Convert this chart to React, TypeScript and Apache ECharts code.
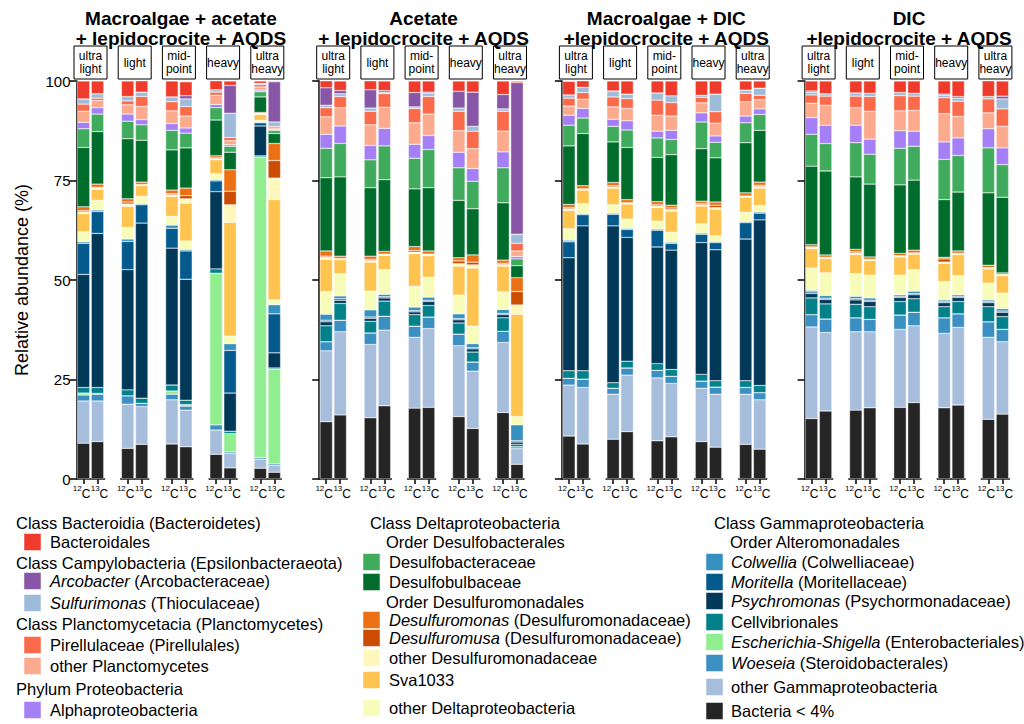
import React, { useEffect, useRef } from 'react';
import * as echarts from 'echarts';

// Facet titles (two lines each), fraction strips and isotope labels
const treatments: string[][] = [
  ['Macroalgae + acetate', '+ lepidocrocite + AQDS'],
  ['Acetate', '+ lepidocrocite + AQDS'],
  ['Macroalgae + DIC', '+lepidocrocite + AQDS'],
  ['DIC', '+lepidocrocite + AQDS'],
];
const fractions = ['ultra\nlight', 'light', 'mid-\npoint', 'heavy', 'ultra\nheavy'];
const isotopes = ['12C', '13C'];

// Taxa in legend order (top of each stack first)
const taxa = [
  'Bacteroidales', 'Arcobacter', 'Sulfurimonas', 'Pirellulaceae', 'other Planctomycetes',
  'Alphaproteobacteria', 'Desulfobacteraceae', 'Desulfobulbaceae', 'Desulfuromonas',
  'Desulfuromusa', 'other Desulfuromonadaceae', 'Sva1033', 'other Deltaproteobacteria',
  'Colwellia', 'Moritella', 'Psychromonas', 'Cellvibrionales', 'Escherichia-Shigella',
  'Woeseia', 'other Gammaproteobacteria', 'Bacteria < 4%',
];
const taxonColors = [
  '#EF3B2C', '#8856A7', '#9EBCDA', '#FB6A4A', '#FCAA8E',
  '#A47FF5', '#41AB5D', '#006D2C', '#EC7014',
  '#CC4C02', '#FFF7BC', '#FEC44F', '#F7FCB9',
  '#3690C0', '#045A8D', '#023858', '#02818A', '#90EE90',
  '#3B8FC1', '#A6BDDB', '#252525',
];
const legendLabels = [
  'Bacteroidales', '{i|Arcobacter} (Arcobacteraceae)', '{i|Sulfurimonas} (Thioculaceae)',
  'Pirellulaceae (Pirellulales)', 'other Planctomycetes', 'Alphaproteobacteria',
  'Desulfobacteraceae', 'Desulfobulbaceae', '{i|Desulfuromonas} (Desulfuromonadaceae)',
  '{i|Desulfuromusa} (Desulfuromonadaceae)', 'other Desulfuromonadaceae', 'Sva1033',
  'other Deltaproteobacteria', '{i|Colwellia} (Colwelliaceae)', '{i|Moritella} (Moritellaceae)',
  '{i|Psychromonas} (Psychormonadaceae)', 'Cellvibrionales',
  '{i|Escherichia-Shigella} (Enterobacteriales)', '{i|Woeseia} (Steroidobacterales)',
  'other Gammaproteobacteria', 'Bacteria < 4%',
];

// Relative abundance (%). Each row: one treatment; within it, fractions
// ultra light, light, mid-point, heavy, ultra heavy, each as 12C, 13C.
const bacteroidales = [
  4.5, 3.2, 3.9, 2.9, 4.0, 3.5, 2.3, 1.1, 0.6, 0.2,
  1.8, 2.4, 2.3, 2.4, 2.9, 2.8, 2.6, 2.8, 3.4, 0.3,
  3.4, 1.8, 2.5, 3.3, 3.0, 3.7, 3.6, 3.3, 2.3, 1.8,
  2.5, 3.2, 3.0, 3.1, 2.9, 3.1, 3.3, 3.9, 4.0, 3.8,
];
const arcobacter = [
  0, 0, 0, 0, 0, 0.8, 0, 7.0, 0, 10.1,
  4.4, 0.8, 4.6, 0.4, 3.6, 0.3, 4.2, 8.6, 3.6, 38.1,
  0, 0, 0, 0, 0, 0, 0, 0, 0, 0,
  0.3, 0, 0, 0, 0, 0, 0.3, 0.4, 0, 0.7,
];
const sulfurimonas = [
  1.3, 1.1, 1.1, 1.1, 1.2, 1.9, 0.6, 6.1, 0.3, 1.1,
  0.6, 0.7, 0.8, 0.4, 0.4, 0.8, 0.8, 1.2, 0.6, 2.3,
  0.8, 1.3, 1.5, 1.1, 1.8, 1.7, 0.5, 4.4, 0.8, 1.8,
  0.7, 0.6, 0.8, 0.8, 0.8, 0.7, 0.6, 0.8, 0.6, 2.5,
];
const pirellulaceae = [
  1.8, 0.6, 1.0, 2.5, 2.3, 2.4, 0.8, 0.8, 0.6, 0.4,
  2.3, 2.8, 3.4, 3.4, 3.6, 4.4, 4.9, 4.4, 5.0, 1.9,
  2.0, 1.7, 2.5, 2.5, 3.8, 3.4, 1.4, 2.9, 2.1, 1.1,
  2.1, 2.3, 2.9, 3.7, 3.8, 3.6, 4.0, 3.8, 3.5, 4.4,
];
const otherPlanctomycetes = [
  2.8, 1.8, 2.3, 3.3, 3.2, 3.0, 2.3, 1.0, 0.8, 0.4,
  4.4, 4.6, 5.2, 5.3, 5.4, 5.4, 5.4, 5.0, 5.2, 1.4,
  2.3, 2.3, 3.1, 3.1, 4.0, 3.6, 2.5, 3.2, 3.6, 2.3,
  3.6, 5.0, 4.4, 7.0, 5.0, 5.2, 7.1, 5.4, 4.0, 5.4,
];
const alphaproteobacteria = [
  1.6, 1.6, 1.8, 1.3, 1.7, 1.3, 0.8, 0.4, 0.4, 0.2,
  3.5, 4.4, 3.6, 4.4, 3.5, 3.5, 3.9, 3.2, 4.0, 0.6,
  2.5, 2.4, 1.8, 2.3, 1.7, 2.3, 2.3, 1.6, 1.7, 1.4,
  4.2, 4.6, 4.4, 3.8, 4.4, 3.8, 4.4, 4.4, 4.8, 4.2,
];
const desulfobacteraceae = [
  4.7, 4.4, 4.4, 3.9, 4.9, 3.7, 3.1, 1.5, 1.3, 0.8,
  7.4, 8.4, 7.0, 8.5, 7.7, 9.6, 8.2, 6.9, 8.8, 1.7,
  5.2, 3.9, 3.9, 4.4, 4.9, 3.8, 6.7, 3.9, 5.0, 4.0,
  8.0, 6.9, 8.6, 7.5, 9.2, 8.5, 10.1, 9.2, 11.3, 8.2,
];
const desulfobulbaceae = [
  14.9, 13.2, 15.1, 10.5, 10.1, 10.1, 9.0, 4.4, 3.9, 2.5,
  18.4, 19.9, 17.2, 18.0, 14.5, 15.9, 14.4, 11.6, 14.4, 3.0,
  14.7, 13.1, 10.2, 13.1, 11.1, 12.7, 13.2, 11.1, 12.6, 13.0,
  19.7, 21.1, 18.2, 18.3, 17.2, 17.6, 14.5, 14.8, 18.2, 19.0,
];
const desulfuromonas = [
  1.0, 0.8, 0.8, 0.6, 0.9, 1.9, 0.5, 5.4, 0.2, 4.3,
  1.3, 0.6, 0.8, 0.7, 1.0, 0.8, 0.8, 1.8, 0.8, 3.5,
  0.8, 0.8, 0.8, 0.8, 0.8, 0.7, 0.6, 0.8, 0.8, 0.8,
  0.6, 0.6, 0.6, 0.6, 0.6, 0.7, 0.4, 0.6, 0.6, 0.4,
];
const desulfuromusa = [
  0.3, 0.2, 0.5, 0, 0.3, 0.8, 0.2, 3.4, 0, 4.4,
  0.3, 0, 0.3, 0, 0.4, 0, 0.7, 0.7, 0.3, 3.4,
  0.3, 0, 0.3, 0, 0.3, 0.4, 0.3, 0.6, 0, 0.3,
  0, 0, 0.3, 0, 0, 0, 0.8, 0, 0, 0,
];
const otherDesulfuromonadaceae = [
  0.4, 0.3, 0.6, 0.3, 0.4, 1.1, 0.3, 4.4, 0.3, 5.4,
  0.5, 0.3, 0.4, 0.3, 0.4, 0.4, 0.6, 0.8, 0.4, 2.3,
  0.4, 0.3, 0.3, 0.3, 0.4, 0.4, 0.3, 0.4, 0.3, 0.4,
  0.4, 0.3, 0.4, 0.3, 0.3, 0.3, 0.3, 0.3, 0.3, 0.3,
];
const sva1033 = [
  4.6, 2.8, 5.3, 2.7, 5.0, 9.5, 3.5, 28.6, 1.5, 25.2,
  8.1, 3.5, 7.3, 3.6, 8.2, 5.4, 7.3, 14.6, 6.5, 25.7,
  4.6, 3.4, 4.2, 3.8, 3.4, 5.3, 4.5, 6.7, 3.8, 4.4,
  4.9, 3.6, 4.8, 3.7, 4.6, 3.9, 4.6, 5.3, 3.6, 4.4,
];
const otherDeltaproteobacteria = [
  2.5, 2.4, 2.9, 1.8, 2.2, 2.1, 1.5, 1.9, 0.4, 1.2,
  5.7, 5.6, 4.7, 6.2, 5.2, 5.0, 4.7, 4.4, 4.4, 2.1,
  2.9, 2.5, 2.1, 2.3, 2.0, 2.5, 2.3, 1.4, 2.3, 1.6,
  5.6, 5.7, 5.7, 5.7, 4.9, 5.4, 4.6, 4.8, 4.2, 3.9,
];
const colwellia = [
  0.4, 0.4, 0.6, 0.3, 0.8, 0.4, 0.3, 1.7, 0.2, 2.3,
  1.5, 0.7, 1.8, 0.6, 0.9, 0.8, 1.2, 1.0, 1.0, 4.0,
  0.4, 0.3, 0.3, 0.3, 0.3, 0.3, 0.3, 0.3, 0.3, 0.3,
  0.4, 0.7, 0.6, 0.6, 0.4, 0.6, 0.4, 0.4, 0.4, 0.6,
];
const moritella = [
  7.8, 5.5, 7.1, 4.6, 5.0, 7.1, 2.7, 10.7, 0.8, 9.8,
  0.4, 0.4, 0.3, 0.3, 0.3, 0.3, 0.3, 0.3, 0.3, 0.3,
  4.0, 2.8, 2.9, 2.0, 4.2, 1.7, 2.1, 1.8, 4.1, 1.7,
  0.4, 0.3, 0.3, 0.3, 0.3, 0.3, 0.3, 0.3, 0.3, 0.3,
];
const psychromonas = [
  28.4, 38.7, 30.2, 44.0, 34.4, 30.4, 19.4, 9.6, 7.5, 3.8,
  1.0, 0.8, 0.8, 0.8, 0.7, 1.0, 0.8, 0.8, 0.8, 0.6,
  28.4, 36.4, 39.4, 31.1, 29.3, 30.0, 33.1, 32.9, 35.6, 41.6,
  1.1, 1.1, 1.1, 1.3, 1.0, 1.0, 1.0, 1.0, 1.0, 1.1,
];
const cellvibrionales = [
  1.4, 1.5, 1.5, 1.3, 1.5, 1.1, 1.1, 0.6, 0.3, 0.3,
  4.0, 4.2, 2.9, 3.8, 2.9, 2.9, 2.8, 2.5, 3.4, 0.6,
  1.9, 2.1, 1.4, 1.7, 1.7, 1.7, 1.7, 1.6, 1.7, 1.8,
  4.2, 3.8, 3.4, 3.2, 3.4, 3.4, 2.8, 3.1, 3.8, 3.2,
];
const escherichiaShigella = [
  0.5, 0.2, 0, 0, 0.8, 0.4, 38.1, 4.6, 75.5, 23.8,
  0, 0, 0, 0, 0, 0, 0, 0, 0, 0,
  0, 0, 0, 0, 0, 0, 0, 0, 0, 0,
  0, 0, 0, 0, 0, 0, 0, 0, 0, 0,
];
const woeseia = [
  1.5, 1.7, 2.1, 0.8, 1.4, 1.0, 1.3, 0.4, 0.4, 0.4,
  2.3, 2.9, 2.9, 3.5, 2.8, 2.9, 2.9, 2.3, 2.8, 0.5,
  1.7, 2.1, 1.5, 1.8, 1.9, 1.8, 1.8, 1.8, 1.7, 1.8,
  3.1, 3.4, 3.5, 3.1, 3.6, 3.4, 3.9, 3.4, 3.9, 3.1,
];
const otherGammaproteobacteria = [
  10.6, 10.2, 11.1, 9.5, 11.1, 9.2, 6.1, 3.6, 2.3, 1.7,
  17.8, 20.9, 18.4, 19.0, 17.8, 19.8, 17.8, 14.4, 17.6, 3.9,
  12.8, 14.2, 11.3, 14.2, 15.8, 13.4, 13.4, 13.3, 12.6, 12.4,
  23.0, 19.7, 19.7, 19.1, 19.6, 19.3, 18.7, 19.5, 20.6, 18.2,
];
const bacteriaBelow4 = [
  9.0, 9.4, 7.7, 8.7, 8.8, 8.1, 6.2, 2.8, 2.7, 1.7,
  14.4, 16.1, 15.4, 18.4, 17.8, 18.0, 15.7, 12.7, 16.7, 3.7,
  10.8, 8.8, 10.0, 11.9, 9.6, 10.6, 9.4, 8.0, 8.7, 7.5,
  15.2, 17.1, 17.3, 17.9, 18.0, 19.2, 17.9, 18.6, 15.0, 16.3,
];

const taxonValues = [
  bacteroidales, arcobacter, sulfurimonas, pirellulaceae, otherPlanctomycetes,
  alphaproteobacteria, desulfobacteraceae, desulfobulbaceae, desulfuromonas,
  desulfuromusa, otherDesulfuromonadaceae, sva1033, otherDeltaproteobacteria,
  colwellia, moritella, psychromonas, cellvibrionales, escherichiaShigella,
  woeseia, otherGammaproteobacteria, bacteriaBelow4,
];

// Legend blocks: group headings and member taxa
const legendColumns = [
  {
    headX: 16, subX: 16, boxX: 24, labelX: 50,
    rows: [
      { head: 'Class Bacteroidia (Bacteroidetes)', y: 523 },
      { taxon: 0, y: 542 },
      { head: 'Class Campylobacteria (Epsilonbacteraeota)', y: 563 },
      { taxon: 1, y: 581 },
      { taxon: 2, y: 603 },
      { head: 'Class Planctomycetacia (Planctomycetes)', y: 624 },
      { taxon: 3, y: 645 },
      { taxon: 4, y: 666 },
      { head: 'Phylum Proteobacteria', y: 689 },
      { taxon: 5, y: 710 },
    ],
  },
  {
    headX: 370, subX: 386, boxX: 363, labelX: 389,
    rows: [
      { head: 'Class Deltaproteobacteria', y: 523 },
      { sub: 'Order Desulfobacterales', y: 542 },
      { taxon: 6, y: 562 },
      { taxon: 7, y: 582 },
      { sub: 'Order Desulfuromonadales', y: 602 },
      { taxon: 8, y: 620 },
      { taxon: 9, y: 638 },
      { taxon: 10, y: 658 },
      { taxon: 11, y: 680 },
      { taxon: 12, y: 708 },
    ],
  },
  {
    headX: 714, subX: 730, boxX: 706, labelX: 731,
    rows: [
      { head: 'Class Gammaproteobacteria', y: 523 },
      { sub: 'Order Alteromonadales', y: 542 },
      { taxon: 13, y: 562 },
      { taxon: 14, y: 582 },
      { taxon: 15, y: 601 },
      { taxon: 16, y: 622 },
      { taxon: 17, y: 642 },
      { taxon: 18, y: 663 },
      { taxon: 19, y: 687 },
      { taxon: 20, y: 711 },
    ],
  },
];

const FONT = 'Liberation Sans, Arial, Helvetica, sans-serif';

export default function App() {
  const ref = useRef<HTMLDivElement>(null);

  useEffect(() => {
    if (!ref.current) return;
    const chart = echarts.init(ref.current, undefined, { renderer: 'svg' });

    // Facet geometry
    const X0 = 90.5;      // centre of first pair of bars
    const PSTEP = 242.7;  // treatment spacing
    const SSTEP = 44.2;   // fraction spacing
    const SUBW = 28;      // plotting width of one fraction
    const STRIPW = 33;    // strip box width
    const TOP = 81;
    const H = 398;
    const axisStyle = { color: '#000', width: 1.5 };

    // isotope label: small raised mass number followed by the element;
    // the pair is nudged apart so the two labels sit side by side
    const supStyle = { fontSize: 8, fontFamily: FONT, color: '#000', verticalAlign: 'top', lineHeight: 16 };
    const elStyle = { fontSize: 12, fontFamily: FONT, color: '#000', verticalAlign: 'bottom', lineHeight: 16 };
    const isoRich = {
      sl: { ...supStyle },
      cl: { ...elStyle, padding: [0, 4, 0, 0] },
      sr: { ...supStyle, padding: [0, 0, 0, 4] },
      cr: { ...elStyle },
    };

    const grids: any[] = [];
    const xAxes: any[] = [];
    const yAxes: any[] = [];
    const graphics: any[] = [];

    for (let p = 0; p < treatments.length; p++) {
      for (let s = 0; s < fractions.length; s++) {
        const g = p * fractions.length + s;
        const c = X0 + p * PSTEP + s * SSTEP;
        grids.push({ left: c - SUBW / 2, top: TOP, width: SUBW, height: H });
        xAxes.push({
          type: 'category', gridIndex: g, data: isotopes,
          axisLine: { show: true, lineStyle: axisStyle },
          axisTick: { show: true, alignWithLabel: true, length: 5, lineStyle: axisStyle },
          axisLabel: {
            show: true, interval: 0, margin: 5,
            formatter: (v: string, i: number) =>
              i === 0
                ? `{sl|${v.slice(0, 2)}}{cl|${v.slice(2)}}`
                : `{sr|${v.slice(0, 2)}}{cr|${v.slice(2)}}`,
            rich: isoRich,
          },
        });
        yAxes.push({
          type: 'value', gridIndex: g, min: 0, max: 100, interval: 25,
          show: s === 0,
          splitLine: { show: false },
          axisLine: { show: true, lineStyle: axisStyle },
          axisTick: { show: true, length: 7, lineStyle: axisStyle },
          axisLabel: { show: p === 0, fontSize: 15, color: '#000', fontFamily: FONT, margin: 6 },
          name: g === 0 ? 'Relative abundance (%)' : '',
          nameLocation: 'middle', nameGap: 46,
          nameTextStyle: { fontSize: 18, color: '#000', fontFamily: FONT },
        });
        // Fraction strip
        graphics.push({
          type: 'rect', silent: true,
          shape: { x: c - STRIPW / 2, y: 46, width: STRIPW, height: 33 },
          style: { fill: '#fff', stroke: '#000', lineWidth: 1 },
        });
        graphics.push({
          type: 'text', silent: true, x: c, y: 62.5,
          style: {
            text: fractions[s], fontSize: 12, fontFamily: FONT, fill: '#000',
            align: 'center', verticalAlign: 'middle', lineHeight: 13,
          },
        });
      }
      // Treatment title
      graphics.push({
        type: 'text', silent: true, x: X0 + p * PSTEP + 2 * SSTEP + 2, y: 28,
        style: {
          text: treatments[p].join('\n'), fontSize: 19, fontWeight: 'bold', fontFamily: FONT,
          fill: '#000', align: 'center', verticalAlign: 'middle', lineHeight: 20,
        },
      });
    }

    // Stacked bars: bottom of the stack is the last taxon in legend order
    const series: any[] = [];
    for (let t = taxa.length - 1; t >= 0; t--) {
      for (let g = 0; g < grids.length; g++) {
        series.push({
          type: 'bar', name: taxa[t], xAxisIndex: g, yAxisIndex: g, stack: 'g' + g,
          barWidth: 12.5,
          itemStyle: { color: taxonColors[t], borderColor: '#fff', borderWidth: 0.4 },
          data: [taxonValues[t][g * 2], taxonValues[t][g * 2 + 1]],
        });
      }
    }

    // Legend
    const LFS = 16.5;
    for (const col of legendColumns) {
      for (const row of col.rows as any[]) {
        if (row.head) {
          graphics.push({
            type: 'text', silent: true, x: col.headX, y: row.y,
            style: { text: row.head, fontSize: LFS, fontFamily: FONT, fill: '#000', verticalAlign: 'middle' },
          });
        } else if (row.sub) {
          graphics.push({
            type: 'text', silent: true, x: col.subX, y: row.y,
            style: { text: row.sub, fontSize: LFS, fontFamily: FONT, fill: '#000', verticalAlign: 'middle' },
          });
        } else {
          const t = row.taxon as number;
          graphics.push({
            type: 'rect', silent: true,
            shape: { x: col.boxX, y: row.y - 8.5, width: 17, height: 17 },
            style: { fill: taxonColors[t], stroke: '#fff', lineWidth: 0.5 },
          });
          graphics.push({
            type: 'text', silent: true, x: col.labelX, y: row.y,
            style: {
              text: legendLabels[t], fontSize: LFS, fontFamily: FONT, fill: '#000', verticalAlign: 'middle',
              rich: { i: { fontStyle: 'italic', fontSize: LFS, fontFamily: FONT, fill: '#000' } },
            },
          });
        }
      }
    }

    chart.setOption({
      animation: false,
      backgroundColor: '#fff',
      textStyle: { fontFamily: FONT },
      grid: grids,
      xAxis: xAxes,
      yAxis: yAxes,
      series,
      graphic: graphics,
    });

    return () => chart.dispose();
  }, []);

  return (
    <div
      ref={ref}
      style={{ position: 'fixed', left: 0, top: 0, width: 1024, height: 724, background: '#fff' }}
    />
  );
}
